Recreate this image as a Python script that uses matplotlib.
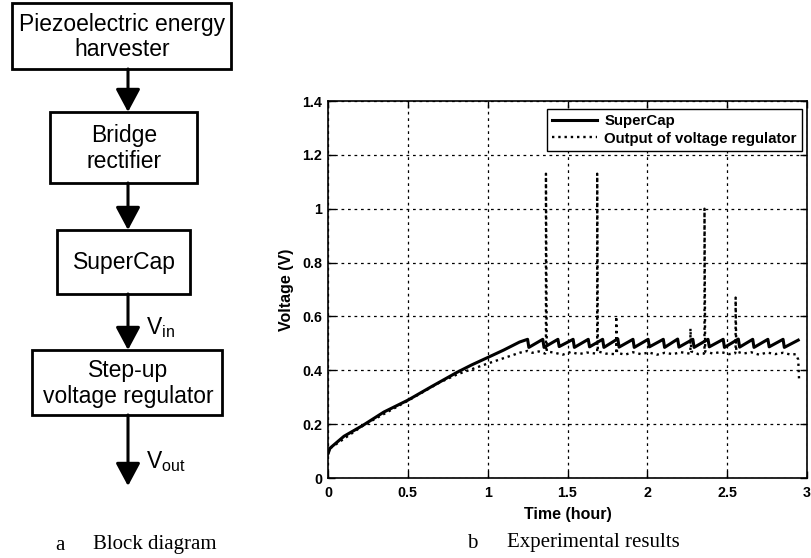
import matplotlib
matplotlib.use("Agg")
import matplotlib.pyplot as plt
from matplotlib.patches import Rectangle, FancyArrowPatch

plt.rcParams['font.family'] = ['Liberation Sans', 'DejaVu Sans']
plt.rcParams['mathtext.fontset'] = 'custom'
plt.rcParams['mathtext.rm'] = 'Liberation Sans'

# ---------------- data ----------------
x_ticks = [0, 0.5, 1, 1.5, 2, 2.5, 3]
x_tick_labels = ['0', '0.5', '1', '1.5', '2', '2.5', '3']
y_ticks = [0, 0.2, 0.4, 0.6, 0.8, 1.0, 1.2, 1.4]
y_tick_labels = ['0', '0.2', '0.4', '0.6', '0.8', '1', '1.2', '1.4']

# SuperCap voltage (hour, V)
supercap_t = [0, 0.013, 0.1, 0.22, 0.35, 0.5, 0.65, 0.81, 0.9, 1.006, 1.1, 1.2,
              1.25, 1.258, 1.345, 1.353, 1.44, 1.448, 1.535, 1.543, 1.63, 1.638,
              1.72, 1.728, 1.815, 1.823, 1.91, 1.918, 2.005, 2.013, 2.10, 2.108,
              2.19, 2.198, 2.285, 2.293, 2.38, 2.388, 2.475, 2.483, 2.57, 2.578,
              2.66, 2.668, 2.755, 2.763, 2.85, 2.858, 2.945]
supercap_v = [0.09, 0.111, 0.155, 0.196, 0.245, 0.289, 0.34, 0.393, 0.42, 0.449, 0.475, 0.505,
              0.515, 0.485, 0.515, 0.485, 0.515, 0.488, 0.515, 0.485, 0.515, 0.487,
              0.515, 0.485, 0.517, 0.486, 0.515, 0.485, 0.515, 0.487, 0.515, 0.485,
              0.516, 0.486, 0.515, 0.485, 0.515, 0.487, 0.515, 0.485, 0.516, 0.486,
              0.515, 0.485, 0.515, 0.487, 0.515, 0.485, 0.512]

# Output of voltage regulator (hour, V)
output_t = [0, 0.013, 0.22, 0.5, 0.7, 0.81, 1.0, 1.1, 1.2, 1.25, 1.28, 1.32, 1.36,
            1.365, 1.365, 1.37, 1.42, 1.47, 1.52, 1.57, 1.62, 1.68,
            1.686, 1.686, 1.69, 1.74, 1.80,
            1.805, 1.805, 1.81, 1.86, 1.91, 1.96, 2.01, 2.06, 2.11, 2.16, 2.21, 2.265,
            2.27, 2.27, 2.275, 2.32, 2.355,
            2.358, 2.358, 2.362, 2.41, 2.46, 2.51, 2.55,
            2.553, 2.553, 2.557, 2.6, 2.65, 2.7, 2.75, 2.8, 2.85, 2.9, 2.93, 2.945, 2.95]
output_v = [0.09, 0.11, 0.195, 0.287, 0.355, 0.385, 0.425, 0.445, 0.465, 0.472, 0.465, 0.47, 0.462,
            0.47, 1.13, 0.47, 0.465, 0.458, 0.468, 0.46, 0.466, 0.462,
            0.47, 1.13, 0.47, 0.462, 0.46,
            0.465, 0.60, 0.465, 0.458, 0.467, 0.46, 0.466, 0.458, 0.465, 0.46, 0.467, 0.462,
            0.47, 0.555, 0.47, 0.46, 0.462,
            0.47, 1.0, 0.47, 0.462, 0.468, 0.46, 0.463,
            0.47, 0.67, 0.47, 0.462, 0.467, 0.458, 0.466, 0.46, 0.465, 0.458, 0.46, 0.44, 0.37]

series_labels = ['SuperCap', 'Output of voltage regulator']

# block diagram contents
block_texts = ['Piezoelectric energy\nharvester', 'Bridge\nrectifier', 'SuperCap',
               'Step-up\nvoltage regulator']

# ---------------- figure ----------------
W, H = 812, 558
fig = plt.figure(figsize=(W / 100, H / 100), dpi=100)
fig.patch.set_facecolor('white')

# overlay in pixel coordinates for the block diagram
ov = fig.add_axes([0, 0, 1, 1])
ov.set_xlim(0, W)
ov.set_ylim(H, 0)
ov.axis('off')

boxes = [(12, 3, 231, 69), (50, 112, 197, 183), (57, 230, 190, 294), (32, 350, 222, 415)]
for (x0, y0, x1, y1), txt in zip(boxes, block_texts):
    ov.add_patch(Rectangle((x0, y0), x1 - x0, y1 - y0, fill=False, lw=2.0, ec='k'))
    ov.text((x0 + x1) / 2 + 1, (y0 + y1) / 2 + 1, txt, ha='center', va='center',
            fontsize=16.5, linespacing=1.12, family='Liberation Sans')

ax_x = 128
arrows = [(69, 112), (183, 230), (294, 350), (415, 486)]
for ya, yb in arrows:
    ov.add_patch(FancyArrowPatch((ax_x, ya), (ax_x, yb),
                                 arrowstyle='-|>,head_length=14,head_width=7.5',
                                 mutation_scale=1, lw=2.2, color='k',
                                 shrinkA=0, shrinkB=0))
ov.text(146, 328, 'V$_{\\mathregular{in}}$', ha='left', va='center', fontsize=16.5)
ov.text(146, 462, 'V$_{\\mathregular{out}}$', ha='left', va='center', fontsize=16.5)

ov.text(55, 545, 'a', ha='left', va='center', fontsize=15, family='Liberation Serif')
ov.text(93, 545, 'Block diagram', ha='left', va='center', fontsize=15, family='Liberation Serif')
ov.text(467, 543, 'b', ha='left', va='center', fontsize=15, family='Liberation Serif')
ov.text(507, 543, 'Experimental results', ha='left', va='center', fontsize=15,
        family='Liberation Serif')

# ---------------- chart ----------------
left, right, top, bottom = 328, 807, 101, 478
ax = fig.add_axes([left / W, (H - bottom) / H, (right - left) / W, (bottom - top) / H])
ax.plot(supercap_t, supercap_v, color='k', lw=2.2, label=series_labels[0])
ax.plot(output_t, output_v, color='k', lw=1.7, ls=':', label=series_labels[1])
ax.set_xlim(0, 3)
ax.set_ylim(0, 1.4)
ax.set_xticks(x_ticks)
ax.set_xticklabels(x_tick_labels, fontweight='bold', fontsize=10.3)
ax.set_yticks(y_ticks)
ax.set_yticklabels(y_tick_labels, fontweight='bold', fontsize=10.3)
ax.tick_params(direction='in', top=True, right=True, length=5, width=1, pad=4)
ax.tick_params(axis='x', pad=6)
ax.grid(True, color='k', ls=(0, (2.2, 3)), lw=0.9)
for s in ax.spines.values():
    s.set_linewidth(1.2)
ax.set_xlabel('Time (hour)', fontweight='bold', fontsize=11.5, labelpad=5)
ax.set_ylabel('Voltage (V)', fontweight='bold', fontsize=11.5, labelpad=6)

leg = ax.legend(loc='upper right', bbox_to_anchor=(0.99, 0.98), prop={'weight': 'bold', 'size': 10.8},
                fancybox=False, edgecolor='k', framealpha=1, handlelength=3.0,
                handletextpad=0.5, labelspacing=0.25, borderpad=0.35, borderaxespad=0)
leg.get_frame().set_linewidth(1.0)

fig.savefig('out.png', dpi=100)
